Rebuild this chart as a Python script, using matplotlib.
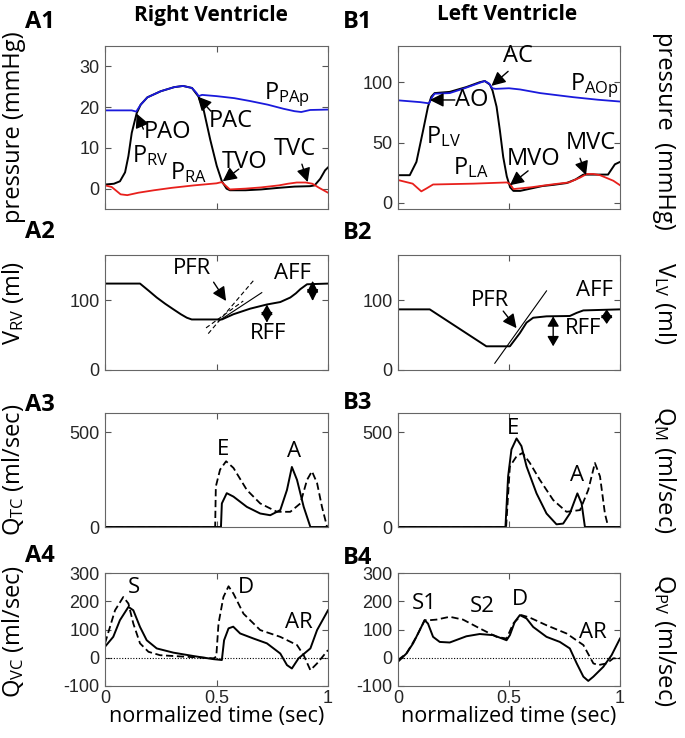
import numpy as np
import matplotlib
matplotlib.use("Agg")
import matplotlib.pyplot as plt

plt.rcParams["font.family"] = ["Open Sans", "DejaVu Sans"]
plt.rcParams["mathtext.fontset"] = "custom"
plt.rcParams["mathtext.rm"] = "Open Sans"
plt.rcParams["mathtext.it"] = "Open Sans:italic"
plt.rcParams["axes.unicode_minus"] = False

# ---- A1: right heart pressures (mmHg) ----
t_prv = [0, 0.04, 0.067, 0.09, 0.105, 0.12, 0.142, 0.16, 0.19, 0.25, 0.31, 0.35, 0.39, 0.419,
         0.442, 0.472, 0.501, 0.524, 0.545, 0.56, 0.63, 0.70, 0.78, 0.85, 0.92, 0.94, 0.965, 0.987, 1.0]
p_rv = [1.0, 1.2, 1.8, 4, 8, 13.7, 18.5, 20.6, 22.4, 23.9, 24.9, 25.2, 24.7, 22.6,
        19.4, 12, 5.6, 1.8, 0, -0.4, -0.4, -0.2, 0.2, 0.5, 0.6, 0.8, 2.4, 4.5, 5.2]
t_ppa = [0, 0.12, 0.14, 0.16, 0.19, 0.25, 0.31, 0.35, 0.39, 0.41, 0.42, 0.435, 0.50, 0.58,
         0.65, 0.73, 0.80, 0.85, 0.88, 0.92, 1.0]
p_pa = [19.2, 19.2, 18.9, 20.6, 22.4, 23.9, 24.9, 25.2, 24.7, 23.5, 22.7, 23.0, 22.7, 22.2,
        21.5, 20.6, 19.6, 19.0, 18.8, 19.3, 19.4]
t_pra = [0, 0.03, 0.07, 0.10, 0.15, 0.22, 0.30, 0.40, 0.50, 0.523, 0.56, 0.63, 0.70, 0.78,
         0.82, 0.86, 0.90, 0.93, 0.96, 1.0]
p_ra = [0.8, 0.4, -1.4, -1.6, -1.0, -0.4, 0.2, 0.8, 1.3, 1.6, -0.2, 0.0, 0.3, 0.8,
        1.2, 1.5, 1.5, 1.2, 0.2, -1.0]

# ---- B1: left heart pressures (mmHg) ----
t_plv = [0, 0.053, 0.083, 0.113, 0.135, 0.15, 0.165, 0.233, 0.308, 0.368, 0.391, 0.414, 0.426,
         0.444, 0.459, 0.474, 0.49, 0.505, 0.52, 0.55, 0.60, 0.65, 0.70, 0.76, 0.80, 0.835,
         0.946, 0.977, 1.0]
p_lv = [23, 23, 34, 60, 79.7, 88, 91, 92, 96, 100, 101, 98, 93,
        79.7, 60, 38, 22, 13, 10, 10, 12, 14, 15, 16.5, 19.5, 23.5,
        23.5, 32, 34]
t_pao = [0, 0.10, 0.14, 0.155, 0.165, 0.233, 0.30, 0.368, 0.39, 0.41, 0.425, 0.44, 0.50,
         0.55, 0.64, 0.79, 0.90, 1.0]
p_ao = [85, 83.5, 82.5, 88, 90.5, 91, 95, 99.5, 101, 99, 95, 94.5, 95,
        94, 91, 87.6, 85.5, 84]
t_pla = [0, 0.066, 0.105, 0.128, 0.158, 0.34, 0.49, 0.505, 0.52, 0.60, 0.70, 0.77, 0.82,
         0.85, 0.88, 0.91, 0.97, 1.0]
p_la = [19, 16, 9.6, 12, 15.3, 16, 17, 15.7, 11.5, 13, 15.5, 17, 21,
        24, 24, 23, 18.4, 14.7]

# ---- A2 / B2: ventricular volumes (ml) ----
t_vrv = [0, 0.157, 0.195, 0.232, 0.27, 0.307, 0.34, 0.367, 0.389, 0.524, 0.576, 0.651,
         0.726, 0.786, 0.831, 0.856, 0.876, 0.906, 1.0]
v_rv = [124, 124, 114, 104, 95, 87, 80, 75, 72.5, 72.5, 80, 88,
        94, 97.5, 104, 110, 116, 123, 124]
t_vlv = [0, 0.143, 0.398, 0.504, 0.549, 0.579, 0.609, 0.669, 0.774, 0.805, 0.835, 1.0]
v_lv = [87, 87, 34, 34, 53, 68, 75, 77, 77.5, 82, 85.5, 87]
# PFR tangent lines (t, ml)
tan_rv_dash1 = ([0.463, 0.665], [52.2, 128])
tan_rv_dash2 = ([0.453, 0.62], [60.4, 99])
tan_rv_solid = ([0.508, 0.703], [70, 111])
tan_lv_solid = ([0.436, 0.669], [9.7, 113.5])

# ---- A3 / B3: valve flows (ml/sec) ----
t_qtc = [0, 0.52, 0.524, 0.546, 0.576, 0.636, 0.696, 0.741, 0.786, 0.816, 0.838, 0.861,
         0.891, 0.921, 1.0]
q_tc = [0, 0, 124, 178, 160, 106, 71, 62, 89, 195, 316, 248, 106, 0, 0]
t_qtc_d = [0, 0.494, 0.497, 0.516, 0.543, 0.576, 0.636, 0.696, 0.771, 0.831, 0.876, 0.906,
           0.928, 0.951, 0.973, 0.996, 1.0]
q_tc_d = [0, 0, 213, 302, 346, 311, 195, 124, 80, 80, 124, 248, 293, 231, 106, 0, 0]
t_qm = [0, 0.484, 0.496, 0.511, 0.534, 0.556, 0.579, 0.624, 0.669, 0.714, 0.744, 0.774,
        0.808, 0.827, 0.842, 1.0]
q_m = [0, 0, 266, 408, 466, 426, 319, 177, 71, 14, 18, 71, 177, 124, 0, 0]
t_qm_d = [0, 0.487, 0.504, 0.534, 0.561, 0.594, 0.639, 0.699, 0.759, 0.82, 0.857, 0.887,
          0.91, 0.932, 0.947, 1.0]
q_m_d = [0, 0, 319, 372, 390, 337, 248, 142, 80, 89, 195, 337, 266, 71, 0, 0]

# ---- A4 / B4: venous flows (ml/sec) ----
t_qvc = [0, 0.037, 0.067, 0.105, 0.127, 0.157, 0.187, 0.232, 0.307, 0.397, 0.487, 0.524,
         0.534, 0.554, 0.575, 0.606, 0.666, 0.726, 0.786, 0.816, 0.838, 0.868, 0.921, 0.951, 1.0]
q_vc = [39, 74, 133, 180, 168, 109, 62, 33, 18, 6, -5, -8,
        62, 104, 110, 86, 68, 51, 15, -26, -38, -2, 33, 98, 168]
t_qvc_d = [0, 0.045, 0.082, 0.105, 0.127, 0.157, 0.195, 0.247, 0.352, 0.487, 0.499, 0.509,
           0.531, 0.554, 0.576, 0.621, 0.696, 0.786, 0.861, 0.891, 0.921, 0.951, 1.0]
q_vc_d = [51, 168, 215, 192, 121, 51, 21, 9, 4, -2, 4, 121,
          215, 253, 227, 156, 98, 74, 45, 9, -44, -20, 27]
t_qpv = [0, 0.038, 0.068, 0.098, 0.12, 0.135, 0.158, 0.188, 0.233, 0.308, 0.368, 0.429,
         0.489, 0.504, 0.526, 0.549, 0.579, 0.609, 0.669, 0.729, 0.774, 0.805, 0.835, 0.857,
         0.88, 0.925, 0.962, 1.0]
q_pv = [-14, 15, 51, 98, 133, 121, 74, 56, 54, 76, 84, 80,
        62, 80, 127, 151, 139, 109, 74, 56, 33, -20, -67, -82,
        -67, -32, 9, 68]
t_qpv_d = [0, 0.038, 0.083, 0.12, 0.143, 0.173, 0.233, 0.293, 0.368, 0.444, 0.489, 0.519,
           0.556, 0.594, 0.669, 0.759, 0.835, 0.88, 0.902, 0.94, 0.97, 1.0]
q_pv_d = [-8, 15, 74, 133, 133, 135, 145, 135, 104, 74, 68, 121,
          151, 142, 115, 86, 45, -20, -26, -20, -2, -2]

BLUE = "#1a1adc"
RED = "#e8201c"
TICK_C = "#555555"

fig = plt.figure(figsize=(6.85, 7.38), dpi=100)
W, H = 685.0, 738.0


def add_ax(x0, x1, y0, y1):
    return fig.add_axes([x0 / W, 1 - y1 / H, (x1 - x0) / W, (y1 - y0) / H])


def style(ax, ylim, yticks, xlab=False):
    ax.set_xlim(0, 1)
    ax.set_ylim(ylim)
    ax.set_xticks([0, 0.5, 1])
    ax.set_yticks(yticks)
    ax.tick_params(direction="in", top=True, right=True, length=4, width=0.8,
                   color=TICK_C, labelsize=13, labelcolor="#262626", pad=4,
                   labelfontfamily="Liberation Sans")
    ax.tick_params(axis="x", pad=3)
    if xlab:
        ax.set_xticklabels(["0", "0.5", "1"])
        ax.set_xlabel("normalized time (sec)", fontsize=15.5)
        ax.xaxis.set_label_coords(0.5, -0.175)
    else:
        ax.set_xticklabels([])
    for s in ax.spines.values():
        s.set_color("#666666")
        s.set_linewidth(0.8)


def left_label(ax, txt, yc=0.5):
    ax.set_ylabel(txt, fontsize=17)
    ax.yaxis.set_label_coords(-0.354, yc)


def right_label(ax, txt, yc=0.5):
    ax.yaxis.set_label_position("right")
    ax.set_ylabel(txt, fontsize=17, rotation=-90, va="bottom")
    ax.yaxis.set_label_coords(1.144, yc)


def arrow(ax, tip, start, ms=14):
    ax.annotate("", xy=tip, xytext=start,
                arrowprops=dict(arrowstyle="-|>,head_length=0.6,head_width=0.3",
                                color="k", lw=1.0, mutation_scale=ms,
                                shrinkA=0, shrinkB=0))


def dbl_arrow(ax, x, y0, y1, hl):
    ax.annotate("", xy=(x, y1), xytext=(x, y0),
                arrowprops=dict(arrowstyle="<|-|>,head_length=%.2f,head_width=0.35" % hl,
                                color="k", lw=1.0, mutation_scale=10,
                                shrinkA=0, shrinkB=0))


AX, AX1 = 105, 328
BX, BX1 = 398, 620
rows = [(46, 209), (255, 370), (413, 527), (573, 686)]

axA1 = add_ax(AX, AX1, *rows[0])
axB1 = add_ax(BX, BX1, *rows[0])
axA2 = add_ax(AX, AX1, *rows[1])
axB2 = add_ax(BX, BX1, *rows[1])
axA3 = add_ax(AX, AX1, *rows[2])
axB3 = add_ax(BX, BX1, *rows[2])
axA4 = add_ax(AX, AX1, *rows[3])
axB4 = add_ax(BX, BX1, *rows[3])

LW = 1.4

# A1
axA1.plot(t_prv, p_rv, color="k", lw=LW)
axA1.plot(t_pra, p_ra, color=RED, lw=1.3)
axA1.plot(t_ppa, p_pa, color=BLUE, lw=1.3)
style(axA1, (-5, 35), [0, 10, 20, 30])
left_label(axA1, "pressure (mmHg)")
fs1 = 17
axA1.text(0.711, 23, r"P$_\mathrm{PAp}$", fontsize=fs1, va="center")
axA1.text(0.12, 8.0, r"P$_\mathrm{RV}$", fontsize=fs1, va="center")
axA1.text(0.292, 4.0, r"P$_\mathrm{RA}$", fontsize=fs1, va="center")
axA1.text(0.172, 14.0, "PAO", fontsize=fs1, va="center")
arrow(axA1, (0.142, 18.4), (0.172, 14.6))
axA1.text(0.464, 16.5, "PAC", fontsize=fs1, va="center")
arrow(axA1, (0.415, 22.6), (0.475, 19.0))
axA1.text(0.627, 6.5, "TVO", fontsize=fs1, va="center", ha="center")
arrow(axA1, (0.528, 1.8), (0.60, 4.8))
axA1.text(0.85, 9.7, "TVC", fontsize=fs1, va="center", ha="center")
arrow(axA1, (0.909, 1.6), (0.883, 6.0))

# B1
axB1.plot(t_plv, p_lv, color="k", lw=LW)
axB1.plot(t_pla, p_la, color=RED, lw=1.3)
axB1.plot(t_pao, p_ao, color=BLUE, lw=1.3)
style(axB1, (-5, 130), [0, 50, 100])
right_label(axB1, "pressure  (mmHg)", 0.48)
axB1.text(0.775, 97, r"P$_\mathrm{AOp}$", fontsize=fs1, va="center")
axB1.text(0.128, 55, r"P$_\mathrm{LV}$", fontsize=fs1, va="center")
axB1.text(0.248, 29, r"P$_\mathrm{LA}$", fontsize=fs1, va="center")
axB1.text(0.541, 122, "AC", fontsize=fs1, va="center", ha="center")
arrow(axB1, (0.421, 97), (0.496, 109))
axB1.text(0.331, 85, "AO", fontsize=fs1, va="center", ha="center")
arrow(axB1, (0.143, 85.3), (0.256, 85.3))
axB1.text(0.612, 36.7, "MVO", fontsize=fs1, va="center", ha="center")
arrow(axB1, (0.504, 14.7), (0.586, 26.6))
axB1.text(0.868, 49.4, "MVC", fontsize=fs1, va="center", ha="center")
arrow(axB1, (0.847, 23), (0.82, 37))

fs2 = 16
# A2
axA2.plot(t_vrv, v_rv, color="k", lw=LW)
axA2.plot(*tan_rv_dash1, color="k", lw=0.8, ls=(0, (4, 2.5)))
axA2.plot(*tan_rv_dash2, color="k", lw=0.8, ls=(0, (4, 2.5)))
axA2.plot(*tan_rv_solid, color="k", lw=0.8)
style(axA2, (0, 165), [0, 100])
left_label(axA2, r"V$_\mathrm{RV}$ (ml)", 0.58)
axA2.text(0.39, 145, "PFR", fontsize=fs2, va="center", ha="center")
arrow(axA2, (0.543, 99), (0.487, 126))
axA2.text(0.84, 139, "AFF", fontsize=fs2, va="center", ha="center")
axA2.text(0.73, 53, "RFF", fontsize=fs2, va="center", ha="center")
dbl_arrow(axA2, 0.726, 68, 94, 0.62)
dbl_arrow(axA2, 0.931, 99, 128, 0.7)

# B2
axB2.plot(t_vlv, v_lv, color="k", lw=LW)
axB2.plot(*tan_lv_solid, color="k", lw=0.8)
style(axB2, (0, 165), [0, 100])
right_label(axB2, r"V$_\mathrm{LV}$ (ml)", 0.58)
axB2.text(0.414, 100, "PFR", fontsize=fs2, va="center", ha="center")
arrow(axB2, (0.534, 60), (0.474, 84.5))
axB2.text(0.887, 113.5, "AFF", fontsize=fs2, va="center", ha="center")
axB2.text(0.835, 59, "RFF", fontsize=fs2, va="center", ha="center")
dbl_arrow(axB2, 0.699, 34, 77, 0.6)
dbl_arrow(axB2, 0.94, 66, 87, 0.5)

# A3
axA3.plot(t_qtc, q_tc, color="k", lw=LW)
axA3.plot(t_qtc_d, q_tc_d, color="k", lw=1.3, ls=(0, (4, 2)))
style(axA3, (0, 600), [0, 500])
left_label(axA3, r"Q$_\mathrm{TC}$ (ml/sec)")
axA3.text(0.527, 408, "E", fontsize=fs2, va="center", ha="center")
axA3.text(0.85, 395, "A", fontsize=fs2, va="center", ha="center")

# B3
axB3.plot(t_qm, q_m, color="k", lw=LW)
axB3.plot(t_qm_d, q_m_d, color="k", lw=1.3, ls=(0, (4, 2)))
style(axB3, (0, 600), [0, 500])
right_label(axB3, r"Q$_\mathrm{M}$ (ml/sec)")
axB3.text(0.516, 520, "E", fontsize=fs2, va="center", ha="center")
axB3.text(0.807, 271, "A", fontsize=fs2, va="center", ha="center")

# A4
axA4.axhline(0, color="k", lw=0.8, ls=(0, (1, 1.5)))
axA4.plot(t_qvc, q_vc, color="k", lw=LW)
axA4.plot(t_qvc_d, q_vc_d, color="k", lw=1.3, ls=(0, (4, 2)))
style(axA4, (-100, 300), [-100, 0, 100, 200, 300], xlab=True)
left_label(axA4, r"Q$_\mathrm{VC}$ (ml/sec)", 0.48)
axA4.text(0.132, 250, "S", fontsize=fs2, va="center", ha="center")
axA4.text(0.632, 250, "D", fontsize=fs2, va="center", ha="center")
axA4.text(0.87, 125, "AR", fontsize=fs2, va="center", ha="center")

# B4
axB4.axhline(0, color="k", lw=0.8, ls=(0, (1, 1.5)))
axB4.plot(t_qpv, q_pv, color="k", lw=LW)
axB4.plot(t_qpv_d, q_pv_d, color="k", lw=1.3, ls=(0, (4, 2)))
style(axB4, (-100, 300), [-100, 0, 100, 200, 300], xlab=True)
right_label(axB4, r"Q$_\mathrm{PV}$ (ml/sec)", 0.40)
axB4.text(0.12, 192, "S1", fontsize=fs2, va="center", ha="center")
axB4.text(0.38, 180, "S2", fontsize=fs2, va="center", ha="center")
axB4.text(0.55, 205, "D", fontsize=fs2, va="center", ha="center")
axB4.text(0.88, 90, "AR", fontsize=fs2, va="center", ha="center")

# panel letters and column titles
for lab, px, py in [("A1", 25, 21.5), ("B1", 343, 21.5), ("A2", 25, 232), ("B2", 343, 233),
                    ("A3", 25, 405), ("B3", 343, 403), ("A4", 25, 556), ("B4", 343, 558)]:
    fig.text(px / W, 1 - py / H, lab, fontsize=17, fontweight="bold", va="center", ha="left")
fig.text(211 / W, 1 - 15 / H, "Right Ventricle", fontsize=15, fontweight="bold",
         va="center", ha="center")
fig.text(507 / W, 1 - 15 / H, "Left Ventricle", fontsize=15, fontweight="bold",
         va="center", ha="center")

fig.savefig("out.png", dpi=100)
